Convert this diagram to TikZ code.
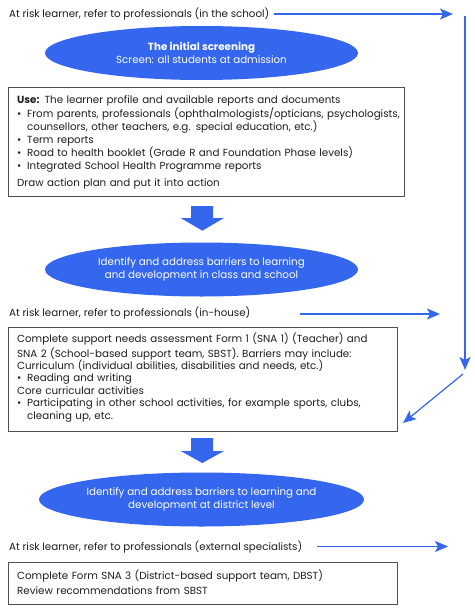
\documentclass[tikz,border=0pt]{standalone}
\usepackage{fontspec}
\setmainfont{Poppins}
\usetikzlibrary{shapes.geometric,arrows.meta}
\definecolor{fblue}{RGB}{52,102,238}
\definecolor{fgray}{RGB}{80,80,80}
\definecolor{ftext}{RGB}{30,30,30}
\begin{document}
\begin{tikzpicture}[x=1pt,y=-1pt,
  txt/.style={font=\fontsize{10.3}{12.8}\selectfont, inner sep=0, text=ftext},
  oval/.style={ellipse, fill=fblue, minimum width=313, minimum height=54, inner sep=0, text=white, align=center, font=\fontsize{10.3}{12.8}\selectfont},
  frame/.style={draw=fgray, line width=1.1, inner sep=0, anchor=north west},
  conn/.style={draw=fblue, line width=1.2, -{Stealth[length=13pt,width=11pt,inset=3pt]}},
  blockarrow/.style={fill=fblue}
]
\useasboundingbox[fill=white] (0,0) rectangle (474,613);
\newcommand{\bul}{\makebox[10pt][l]{\textbullet}}

% top referral
\node[txt, anchor=base west] (r1) at (9,17.5) {At risk learner, refer to professionals (in the school)};
\coordinate (r1e) at (453,14);
\draw[conn] ([xshift=4pt]r1.east |- r1e) -- (r1e);
\coordinate (v1) at (465,16);
\coordinate (v2) at (465,370);
\draw[conn] (v1) -- (v2);
\coordinate (d1) at (463,374);
\coordinate (d2) at (403,423);
\draw[conn] (d1) -- (d2);

% ellipse 1
\node[oval] (e1) at (201.5,53) {\textbf{The initial screening}\\Screen: all students at admission};

% box 1
\node[frame, minimum width=396, minimum height=109] (b1) at (8,87) {};
\node[txt, anchor=north west, align=left, text width=388] (b1t) at ([shift={(9,7.2)}]b1.north west) {\strut\textbf{Use:} The learner profile and available reports and documents\\
\bul From parents, professionals (ophthalmologists/opticians, psychologists,\\
\hspace*{10pt}counsellors, other teachers, e.g. special education, etc.)\\
\bul Term reports\\
\bul Road to health booklet (Grade R and Foundation Phase levels)\\
\bul Integrated School Health Programme reports\\[5pt]
Draw action plan and put it into action};

% block arrow 1
\fill[blockarrow] (191,206) -- (213,206) -- (213,218) -- (224,218) -- (202.3,230.7) -- (180.7,218) -- (191,218) -- cycle;

% ellipse 2
\node[oval] (e2) at (201.5,269.5) {Identify and address barriers to learning\\and development in class and school};

% in-house referral
\node[txt, anchor=base west] (r2) at (9,316.5) {At risk learner, refer to professionals (in-house)};
\coordinate (r2s) at (300,314);
\coordinate (r2e) at (440,314);
\draw[conn] (r2s) -- (r2e);

% box 2
\node[frame, minimum width=389, minimum height=104] (b2) at (8,327) {};
\node[txt, anchor=north west, align=left, text width=380, font=\fontsize{10.3}{12.4}\selectfont] (b2t) at ([shift={(9,6)}]b2.north west) {\strut Complete support needs assessment Form 1 (SNA 1) (Teacher) and\\
SNA 2 (School-based support team, SBST). Barriers may include:\\
Curriculum (individual abilities, disabilities and needs, etc.)\\
\bul Reading and writing\\
Core curricular activities\\
\bul Participating in other school activities, for example sports, clubs,\\
\hspace*{10pt}cleaning up, etc.};

% block arrow 2
\fill[blockarrow] (191,438) -- (213,438) -- (213,451) -- (224,451) -- (202.3,463) -- (180.7,451) -- (191,451) -- cycle;

% ellipse 3
\node[oval] (e3) at (201.5,499.5) {Identify and address barriers to learning and\\development at district level};

% external referral
\node[txt, anchor=base west] (r3) at (9,550) {At risk learner, refer to professionals (external specialists)};
\coordinate (r3s) at (317,546.5);
\coordinate (r3e) at (448,546.5);
\draw[conn] (r3s) -- (r3e);

% box 3
\node[frame, minimum width=389, minimum height=42] (b3) at (8,562) {};
\node[txt, anchor=north west, align=left, text width=380, font=\fontsize{10.3}{15}\selectfont] (b3t) at ([shift={(9,6.5)}]b3.north west) {\strut Complete Form SNA 3 (District-based support team, DBST)\\
Review recommendations from SBST};
\end{tikzpicture}
\end{document}
